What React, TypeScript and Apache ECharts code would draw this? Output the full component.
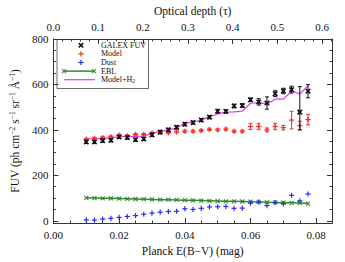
import React, { useEffect, useRef } from 'react';
import * as echarts from 'echarts';

// Planck E(B-V) bin centres (mag)
const ebv = [0.01, 0.0125, 0.015, 0.0175, 0.02, 0.0225, 0.025, 0.0275, 0.03, 0.0325, 0.035, 0.0375, 0.04, 0.0425,
  0.045, 0.0475, 0.05, 0.0525, 0.055, 0.0575, 0.06, 0.0625, 0.065, 0.0675, 0.07, 0.0725, 0.075, 0.0775];
// GALEX FUV observed
const galex = [347, 347, 352, 354, 369, 366, 357, 360, 378, 390, 400, 411, 425, 432, 443, 456, 482, 481, 505, 507,
  532, 523, 518, 559, 571, 577, 478, 570];
const galexErrLo = [7, 7, 7, 7, 7, 7, 7, 7, 7, 7, 7, 7, 7, 7, 7, 7, 8, 8, 8, 8, 8, 14, 27, 13, 12, 15, 78, 29];
const galexErrHi = [7, 7, 7, 7, 7, 7, 7, 7, 7, 7, 7, 7, 7, 7, 7, 7, 8, 8, 8, 8, 8, 14, 27, 13, 12, 15, 112, 29];
// Model
const model = [359, 363, 366, 370, 377, 374, 380, 380, 386, 390, 387, 391, 394, 394, 397, 402, 400, 403, 394, 394,
  415, 415, 400, 415, 410, 443, 419, 445];
const modelErr = [4, 4, 4, 4, 4, 4, 4, 4, 4, 4, 4, 4, 5, 5, 5, 5, 5, 5, 5, 5, 14, 14, 8, 14, 10, 39, 19, 23];
// Dust
const dust = [4, 3, 8, 11, 15, 19, 23, 29, 34, 38, 41, 42, 53, 50, 55, 61, 62, 63, 55, 56, 78, 82, 67, 80, 75, 112, 88, 118];
// EBL
const ebl = [101, 100, 99, 99, 98, 97, 96, 95, 94, 93, 93, 92, 91, 90, 89, 88, 87, 86, 86, 85, 84, 83, 82, 81, 80,
  79, 78, 76];
// Model + H2
const modelH2 = [360, 361, 363, 365, 370, 370, 371, 372, 385, 393, 400, 408, 429, 434, 443, 458, 470, 478, 479, 482,
  517, 520, 514, 535, 535, 571, 558, 593];

// Axis ticks
const xMajor = [0, 0.02, 0.04, 0.06, 0.08];
const xMinor = [0.005, 0.01, 0.015, 0.025, 0.03, 0.035, 0.045, 0.05, 0.055, 0.065, 0.07, 0.075, 0.085];
const tauMajor = [0, 0.1, 0.2, 0.3, 0.4, 0.5, 0.6];
const tauMinor = [0.02, 0.04, 0.06, 0.08, 0.12, 0.14, 0.16, 0.18, 0.22, 0.24, 0.26, 0.28, 0.32, 0.34, 0.36, 0.38,
  0.42, 0.44, 0.46, 0.48, 0.52, 0.54, 0.56, 0.58, 0.62];
const yMajor = [0, 200, 400, 600, 800];
const yMinor = [50, 100, 150, 250, 300, 350, 450, 500, 550, 650, 700, 750];

const X_MAX = 0.0848;
const TAU_MAX = 0.622;
const Y_MIN = -10, Y_MAX = 800;

const FONT = 'Liberation Serif';
const AX = '#333';
const BLACK = '#111';
const RED = '#ff2a2a';
const BLUE = '#2a2aff';
const GREEN = '#2e8b2e';
const MAGENTA = '#ee33ee';

function seg(x1: number, y1: number, x2: number, y2: number, color: string, lw: number) {
  return { type: 'line', shape: { x1, y1, x2, y2 }, style: { stroke: color, lineWidth: lw } };
}
function marker(cx: number, cy: number, kind: string, r: number, color: string, lw: number) {
  if (kind === 'x') {
    return [seg(cx - r, cy - r, cx + r, cy + r, color, lw), seg(cx - r, cy + r, cx + r, cy - r, color, lw)];
  }
  return [seg(cx - r, cy, cx + r, cy, color, lw), seg(cx, cy - r, cx, cy + r, color, lw)];
}

function pointSeries(name: string, rows: number[][], color: string, kind: string, r: number, lw: number, withErr: boolean) {
  return {
    name,
    type: 'custom',
    xAxisIndex: 0,
    yAxisIndex: 0,
    data: rows,
    z: 5,
    renderItem: (params: any, api: any) => {
      const x = api.value(0), y = api.value(1);
      const p = api.coord([x, y]);
      const children: any[] = [];
      if (withErr) {
        const lo = api.value(2), hi = api.value(3);
        const pl = api.coord([x, y - lo]);
        const ph = api.coord([x, y + hi]);
        children.push(seg(p[0], pl[1], p[0], ph[1], color, 1));
        children.push(seg(p[0] - 2, pl[1], p[0] + 2, pl[1], color, 1));
        children.push(seg(p[0] - 2, ph[1], p[0] + 2, ph[1], color, 1));
      }
      children.push(...marker(p[0], p[1], kind, r, color, lw));
      return { type: 'group', children };
    },
  };
}

function xAxisDef(position: string, max: number, ticks: number[], len: number, labels: boolean, line: boolean, fmt: (v: number) => string, name?: string, nameGap?: number) {
  return {
    type: 'value', position, min: 0, max,
    splitLine: { show: false },
    axisLine: { show: line, onZero: false, lineStyle: { color: AX, width: 1 } },
    axisTick: { show: true, inside: true, length: len, customValues: ticks, lineStyle: { color: AX, width: 1 } },
    axisLabel: labels
      ? { show: true, customValues: ticks, formatter: fmt, margin: 6, color: '#111', fontFamily: FONT, fontSize: 11 }
      : { show: false },
    name: name || '',
    nameLocation: 'middle',
    nameGap: nameGap || 0,
    nameTextStyle: { fontFamily: FONT, fontSize: 11.5, color: '#111' },
  };
}
function yAxisDef(position: string, ticks: number[], len: number, labels: boolean, line: boolean, name?: any) {
  return {
    type: 'value', position, min: Y_MIN, max: Y_MAX,
    splitLine: { show: false },
    axisLine: { show: line, onZero: false, lineStyle: { color: AX, width: 1 } },
    axisTick: { show: true, inside: true, length: len, customValues: ticks, lineStyle: { color: AX, width: 1 } },
    axisLabel: labels
      ? { show: true, customValues: ticks, formatter: (v: number) => String(Math.round(v)), margin: 5, color: '#111', fontFamily: FONT, fontSize: 11 }
      : { show: false },
    ...(name || {}),
  };
}

export default function App() {
  const ref = useRef<HTMLDivElement>(null);
  useEffect(() => {
    const chart = echarts.init(ref.current!, null, { renderer: 'svg' });
    const galexRows = ebv.map((x, i) => [x, galex[i], galexErrLo[i], galexErrHi[i]]);
    const modelRows = ebv.map((x, i) => [x, model[i], modelErr[i], modelErr[i]]);
    const dustRows = ebv.map((x, i) => [x, dust[i]]);
    const eblRows = ebv.map((x, i) => [x, ebl[i]]);
    const h2Rows = ebv.map((x, i) => [x, modelH2[i]]);

    const lgX = 81, lgText = 101;
    const rows = [45.3, 53.9, 62.5, 71.1, 79.7];
    const legendChildren: any[] = [
      { type: 'rect', shape: { x: 57, y: 39.5, width: 91.5, height: 49 }, style: { fill: '#fff', stroke: '#444', lineWidth: 0.8 } },
      ...marker(lgX, rows[0], 'x', 2.2, BLACK, 1.6),
      ...marker(lgX, rows[1], '+', 2.6, RED, 1.2),
      ...marker(lgX, rows[2], '+', 2.6, BLUE, 1.2),
      seg(64, rows[3], 94, rows[3], GREEN, 1.5),
      ...marker(64, rows[3], 'x', 2, GREEN, 1.1),
      ...marker(94, rows[3], 'x', 2, GREEN, 1.1),
      seg(64, rows[4], 95, rows[4], MAGENTA, 1.2),
    ];
    const labels = ['GALEX FUV', 'Model', 'Dust', 'EBL'];
    labels.forEach((t, i) => {
      legendChildren.push({
        type: 'text', x: lgText, y: rows[i],
        style: { text: t, fontFamily: FONT, fontSize: 8, lineHeight: 8, fill: '#111', verticalAlign: 'middle', align: 'left' },
      });
    });
    legendChildren.push({
      type: 'text', x: lgText, y: rows[4],
      style: {
        text: '{a|Model+H}{b|2}', verticalAlign: 'middle', align: 'left',
        rich: {
          a: { fontFamily: FONT, fontSize: 8, fill: '#111', lineHeight: 8, verticalAlign: 'middle' },
          b: { fontFamily: FONT, fontSize: 5.5, fill: '#111', verticalAlign: 'bottom', lineHeight: 8 },
        },
      },
    });

    const yName = '{a|FUV (ph cm}{s|−2}{a| s}{s|−1}{a| sr}{s|−1}{a| Å}{s|−1}{a|)}';

    chart.setOption({
      animation: false,
      backgroundColor: '#fff',
      grid: { left: 53, right: 13, top: 33, bottom: 37, containLabel: false },
      xAxis: [
        xAxisDef('bottom', X_MAX, xMajor, 5, true, true, (v) => v.toFixed(2), 'Planck E(B−V) (mag)', 16),
        xAxisDef('bottom', X_MAX, xMinor, 2.5, false, false, (v) => ''),
        xAxisDef('top', TAU_MAX, tauMajor, 5, true, true, (v) => v.toFixed(1), 'Optical depth (τ)', 12),
        xAxisDef('top', TAU_MAX, tauMinor, 2.5, false, false, (v) => ''),
      ],
      yAxis: [
        yAxisDef('left', yMajor, 5, true, true, {
          name: yName, nameLocation: 'middle', nameGap: 30, nameRotate: 90,
          nameTextStyle: {
            rich: {
              a: { fontFamily: FONT, fontSize: 11.5, color: '#111', lineHeight: 14, verticalAlign: 'middle' },
              s: { fontFamily: FONT, fontSize: 7.5, color: '#111', lineHeight: 14, verticalAlign: 'top' },
            },
          },
        }),
        yAxisDef('left', yMinor, 2.5, false, false),
        yAxisDef('right', yMajor, 5, false, true),
        yAxisDef('right', yMinor, 2.5, false, false),
      ],
      series: [
        {
          name: 'Model+H2', type: 'line', xAxisIndex: 0, yAxisIndex: 0, data: h2Rows,
          showSymbol: false, lineStyle: { color: MAGENTA, width: 1.2 }, z: 3,
        },
        {
          name: 'EBL line', type: 'line', xAxisIndex: 0, yAxisIndex: 0, data: eblRows,
          showSymbol: false, lineStyle: { color: GREEN, width: 1.5 }, z: 3,
        },
        pointSeries('EBL', eblRows, GREEN, 'x', 2, 1.1, false),
        pointSeries('Dust', dustRows, BLUE, '+', 2.6, 1.2, false),
        pointSeries('Model', modelRows, RED, '+', 2.6, 1.2, true),
        pointSeries('GALEX FUV', galexRows, BLACK, 'x', 2.2, 1.6, true),
      ],
      graphic: [{ type: 'group', z: 100, children: legendChildren }],
    });
    return () => chart.dispose();
  }, []);
  return <div ref={ref} style={{ position: 'fixed', left: 0, top: 0, width: 345, height: 262, background: '#fff' }} />;
}
